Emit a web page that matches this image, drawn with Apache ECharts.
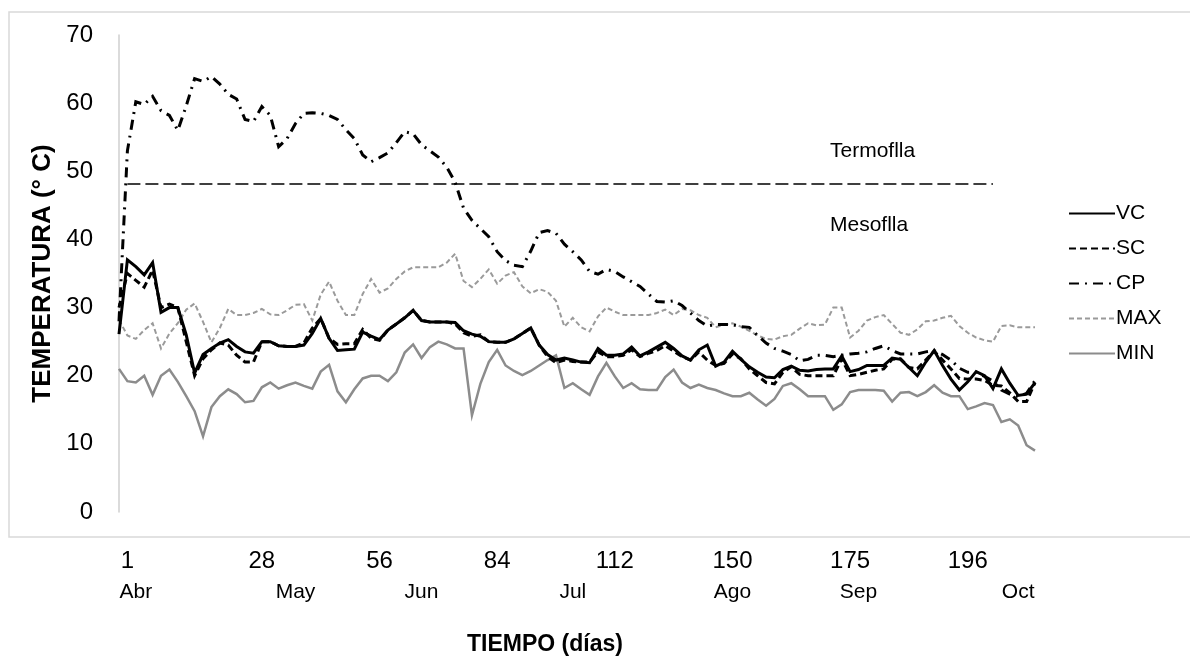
<!DOCTYPE html>
<html>
<head>
<meta charset="utf-8">
<script src="https://cdn.jsdelivr.net/npm/echarts@6/dist/echarts.min.js"></script>
<style>
html,body{margin:0;padding:0;background:#fff;}
#chart{width:1190px;height:663px;}
</style>
</head>
<body>
<div id="chart"></div>
<script>
// ---- data ----
const seriesNames = ['VC', 'SC', 'CP', 'MAX', 'MIN'];

const vc = [26.1,37.0,36.0,34.8,36.6,29.3,30.0,30.0,26.0,20.4,
  23.1,24.0,24.8,25.3,24.3,23.5,23.3,25.0,25.0,24.4,
  24.3,24.3,24.5,26.2,28.4,25.5,23.7,23.8,23.9,26.4,
  25.8,25.3,26.7,27.6,28.5,29.6,28.1,27.9,27.9,27.9,
  27.8,26.6,26.1,25.8,25.0,24.9,24.9,25.4,26.2,27.0,
  24.5,23.1,22.3,22.6,22.3,22.0,21.9,24.0,23.0,23.0,
  23.2,24.2,22.9,23.5,24.2,24.9,24.0,22.9,22.3,23.8,
  24.5,21.4,22.0,23.6,22.4,21.3,20.5,19.8,19.7,20.9,
  21.4,20.8,20.7,20.9,21.0,21.0,22.9,20.6,20.9,21.5,
  21.5,21.5,22.6,22.4,21.2,20.0,22.0,23.7,21.5,19.5,
  17.9,19.1,20.6,20.0,18.1,21.0,18.9,17.1,17.3,19.0];

const sc = [30.0,35.0,34.0,33.0,35.5,30.0,30.5,30.0,25.0,20.0,
  22.5,23.8,24.8,24.5,23.0,22.0,22.0,25.0,25.0,24.4,
  24.3,24.3,24.8,27.0,28.4,25.5,24.6,24.7,24.7,26.8,
  25.5,25.2,26.7,27.6,28.5,29.6,28.1,27.9,27.9,27.9,
  27.6,26.3,25.8,26.0,25.0,24.9,24.9,25.4,26.2,27.0,
  24.5,22.8,21.9,22.3,22.1,22.0,22.0,23.5,22.8,22.8,
  23.0,23.8,22.8,23.3,23.7,24.4,23.6,22.8,22.3,23.5,
  22.3,21.5,21.8,23.2,22.5,21.0,20.0,19.0,18.8,20.5,
  21.3,20.2,20.0,20.0,20.0,20.0,22.5,20.0,20.2,20.5,
  20.8,21.0,22.4,22.5,21.2,21.0,22.3,23.6,22.3,21.0,
  19.6,19.5,19.5,19.3,18.6,18.5,17.5,16.2,16.2,19.0];

const cp = [28.0,53.0,60.2,59.8,61.0,58.9,58.2,56.0,59.6,63.6,
  63.2,63.9,62.8,61.3,60.6,57.6,57.3,59.5,58.2,53.6,
  54.8,57.0,58.5,58.6,58.5,58.2,57.6,56.1,54.8,52.4,
  51.4,52.0,52.7,54.2,55.8,55.5,53.9,53.0,52.1,50.6,
  48.4,44.6,42.8,41.6,40.4,38.2,36.9,36.2,36.0,38.3,
  41.0,41.3,40.9,39.3,38.2,37.0,35.3,34.9,35.6,35.3,
  34.5,33.8,33.1,32.0,30.9,30.8,31.0,30.3,29.2,28.1,
  27.3,27.5,27.5,27.5,27.2,27.1,25.9,24.8,24.0,23.6,
  23.1,22.2,22.4,23.0,23.0,22.8,23.0,23.2,23.3,23.5,
  24.0,24.4,23.7,23.2,23.2,23.2,23.5,23.7,23.1,22.3,
  21.1,20.5,20.5,19.9,19.2,17.9,17.3,16.9,17.4,19.3];

const tmax = [28.2,25.9,25.4,26.7,27.7,24.0,26.2,27.7,29.7,30.6,
  27.9,24.9,27.0,29.8,28.9,28.9,29.2,29.8,29.0,28.9,
  29.6,30.4,30.5,28.1,31.9,33.8,31.0,28.9,28.9,32.0,
  34.2,32.2,32.8,34.2,35.3,35.9,35.9,35.9,35.9,36.6,
  37.9,33.9,33.0,34.2,35.6,33.5,34.7,35.2,33.1,32.1,
  32.7,32.3,31.0,27.2,28.5,27.1,26.5,28.7,30.0,29.4,
  28.9,28.9,28.9,28.9,29.2,29.7,28.9,29.8,29.6,28.9,
  28.5,27.1,27.5,27.7,27.2,26.6,25.9,25.4,25.3,25.8,
  26.0,26.9,27.7,27.4,27.5,30.0,30.0,25.6,26.6,28.1,
  28.6,28.9,27.6,26.3,26.0,26.8,28.0,28.1,28.5,28.8,
  27.3,26.3,25.6,25.2,25.0,27.3,27.4,27.1,27.1,27.1];

const tmin = [21.0,19.2,19.0,20.0,17.2,20.0,20.9,19.1,17.0,14.8,
  11.1,15.4,17.0,18.0,17.3,16.1,16.3,18.3,19.0,18.1,
  18.6,19.0,18.5,18.1,20.6,21.6,17.7,16.1,18.0,19.6,
  20.0,20.0,19.2,20.5,23.4,24.6,22.6,24.2,25.0,24.6,
  24.0,24.0,14.2,18.8,22.0,23.8,21.5,20.7,20.1,20.7,
  21.5,22.3,23.0,18.2,18.9,18.0,17.2,19.9,21.9,19.9,
  18.2,18.9,18.0,17.9,17.9,19.8,20.9,19.0,18.2,18.7,
  18.2,17.9,17.4,17.0,17.0,17.5,16.5,15.6,16.6,18.5,
  18.9,18.0,17.0,17.0,17.0,15.0,15.8,17.6,17.9,17.9,
  17.9,17.8,16.2,17.5,17.6,17.0,17.6,18.6,17.5,17.0,
  17.0,15.1,15.5,16.0,15.7,13.2,13.6,12.7,9.8,9.0];

const thresholdValue = 48.2;            // Termofila / Mesofila boundary
const thresholdFrom = 1, thresholdTo = 104;

const dayTickIdx = [1, 17, 31, 45, 59, 73, 87, 101];
const dayTickLabels = ['1', '28', '56', '84', '112', '150', '175', '196'];
const monthTickIdx = [2, 21, 36, 54, 73, 88, 107];
const monthTickLabels = ['Abr', 'May', 'Jun', 'Jul', 'Ago', 'Sep', 'Oct'];

const yTicks = {min: 0, max: 70, interval: 10};

// ---- chart ----
const categories = vc.map((_, i) => String(i));
const FONT = '"Liberation Sans", Arial, sans-serif';

const dayMap = {}; dayTickIdx.forEach((k, j) => dayMap[k] = dayTickLabels[j]);
const monMap = {}; monthTickIdx.forEach((k, j) => monMap[k] = monthTickLabels[j]);

const chart = echarts.init(document.getElementById('chart'), null, {renderer: 'canvas'});

function lineSeries(name, data, color, width, type, z) {
  return {
    name, type: 'line', data, symbol: 'none', showSymbol: false, smooth: false, z,
    xAxisIndex: 0, yAxisIndex: 0,
    lineStyle: {color, width, type, cap: 'butt', join: 'miter'},
    itemStyle: {color}
  };
}

const option = {
  animation: false,
  backgroundColor: '#fff',
  textStyle: {fontFamily: FONT},
  grid: {left: 119, right: 155, top: 35, bottom: 151, containLabel: false},
  graphic: [
    {type: 'rect', z: -10, silent: true,
     shape: {x: 9, y: 12, width: 1200, height: 525},
     style: {fill: 'none', stroke: '#d9d9d9', lineWidth: 1.5}},
    {type: 'text', left: 830, top: 141, silent: true,
     style: {text: 'Termoflla', font: '21px ' + FONT, fill: '#000'}},
    {type: 'text', left: 830, top: 215, silent: true,
     style: {text: 'Mesoflla', font: '21px ' + FONT, fill: '#000'}},
    {type: 'text', left: 467, top: 633, silent: true,
     style: {text: 'TIEMPO (días)', font: 'bold 23px ' + FONT, fill: '#000'}}
  ],
  legend: {
    orient: 'vertical', left: 1063, top: 198,
    data: seriesNames,
    itemWidth: 46, itemHeight: 16, itemGap: 14,
    itemStyle: {opacity: 0, borderWidth: 0},
    textStyle: {fontSize: 21, color: '#000', fontFamily: FONT, padding: [0, 0, 0, -4]}
  },
  xAxis: [
    {type: 'category', data: categories, boundaryGap: false,
     axisLine: {show: false}, axisTick: {show: false}, splitLine: {show: false},
     axisLabel: {interval: 0, margin: 37, fontSize: 24, color: '#000',
       formatter: (v, i) => dayMap[i] || ''}},
    {type: 'category', data: categories, boundaryGap: false, position: 'bottom',
     axisLine: {show: false}, axisTick: {show: false}, splitLine: {show: false},
     axisLabel: {interval: 0, margin: 70, fontSize: 21, color: '#000',
       formatter: (v, i) => monMap[i] || ''}}
  ],
  yAxis: {
    type: 'value', min: yTicks.min, max: yTicks.max, interval: yTicks.interval,
    axisLine: {show: true, lineStyle: {color: '#cfcfcf', width: 1.5}},
    axisTick: {show: false}, splitLine: {show: false},
    axisLabel: {fontSize: 24, color: '#000', margin: 26},
    name: 'TEMPERATURA (° C)', nameLocation: 'middle', nameGap: 56,
    nameTextStyle: {fontSize: 26, fontWeight: 'bold', color: '#000'}
  },
  series: [
    lineSeries('MIN', tmin, '#8c8c8c', 2.5, 'solid', 2),
    lineSeries('MAX', tmax, '#9a9a9a', 2, [5, 3], 3),
    Object.assign(lineSeries('CP', cp, '#000', 3, [10, 6, 2, 6], 4), {
      markLine: {
        silent: true, symbol: 'none', label: {show: false},
        lineStyle: {color: '#000', width: 1.6, type: [13, 5]},
        data: [[{coord: [thresholdFrom, thresholdValue]}, {coord: [thresholdTo, thresholdValue]}]]
      }
    }),
    lineSeries('SC', sc, '#000', 3, [7, 4], 5),
    lineSeries('VC', vc, '#000', 3, 'solid', 6)
  ]
};
chart.setOption(option);
</script>
</body>
</html>
